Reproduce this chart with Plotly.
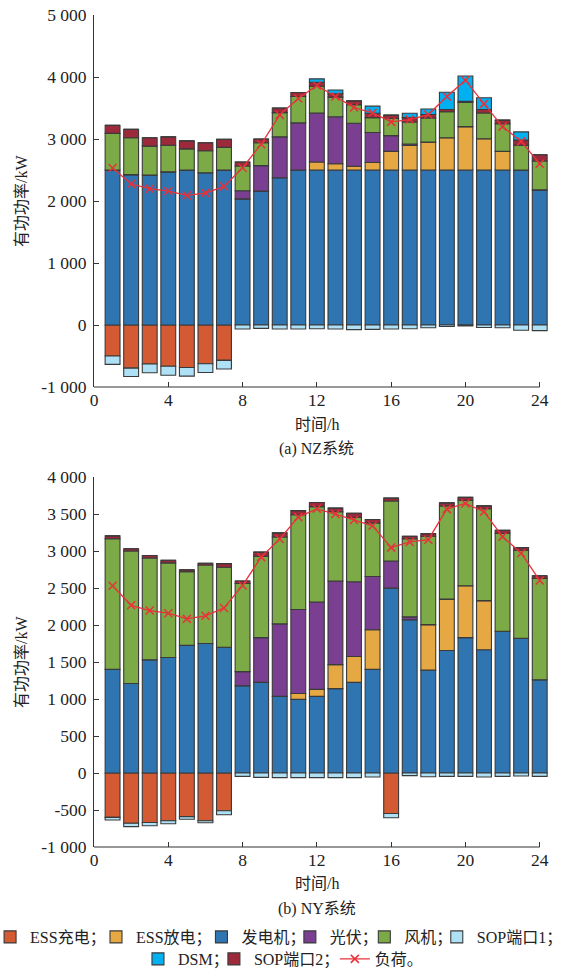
import plotly.graph_objects as go

hours = list(range(1, 25))

# ---- NZ system (a) ----
nz_ess_charge = [-500, -695, -630, -665, -685, -625, -570] + [0] * 17
nz_generator = [2500, 2425, 2420, 2470, 2500, 2455, 2500, 2035, 2160, 2375,
                2500, 2500, 2500, 2500, 2500, 2500, 2500, 2500, 2500, 2500,
                2500, 2500, 2500, 2180]
nz_ess_discharge = [0] * 11 + [130, 100, 60, 120, 300, 395, 450, 520, 700, 505, 300, 0, 0]
nz_pv = [0, 0, 0, 0, 0, 0, 0, 130, 410, 660, 760, 790, 760, 695, 485, 255, 25,
         0, 0, 0, 0, 0, 0, 0]
nz_wind = [590, 595, 465, 430, 340, 355, 365, 400, 370, 390, 425, 430, 315, 300,
           240, 275, 355, 390, 420, 390, 415, 445, 400, 465]
nz_sop1 = [-135, -135, -140, -145, -140, -140, -140, -65, -55, -65, -65, -60,
           -65, -75, -70, -65, -60, -45, -25, -15, -40, -45, -85, -90]
nz_sop2 = [130, 135, 135, 135, 130, 130, 130, 65, 60, 75, 65, 65, 55, 60, 70,
           55, 70, 55, 35, 20, 55, 60, 85, 100]
nz_dsm = [0] * 11 + [55, 60, 0, 115, 0, 70, 90, 280, 405, 190, 0, 130, 0]
nz_load = [2532, 2274, 2198, 2161, 2090, 2128, 2235, 2537, 2914, 3389, 3652,
           3862, 3685, 3507, 3421, 3276, 3313, 3394, 3685, 3948, 3567, 3200,
           2962, 2602]

# ---- NY system (b) ----
ny_ess_charge = [-600, -680, -668, -645, -590, -645, -510, 0, 0, 0, 0, 0, 0, 0,
                 0, -547, 0, 0, 0, 0, 0, 0, 0, 0]
ny_generator = [1400, 1210, 1530, 1560, 1725, 1750, 1700, 1180, 1225, 1035, 995,
                1035, 1140, 1225, 1400, 2500, 2070, 1390, 1655, 1830, 1665, 1915,
                1820, 1260]
ny_ess_discharge = [0] * 10 + [80, 95, 325, 350, 535, 0, 0, 615, 695, 700, 665,
                               0, 0, 0]
ny_pv = [0, 0, 0, 0, 0, 0, 0, 190, 605, 980, 1135, 1180, 1130, 1010, 720, 365,
         40, 0, 0, 0, 0, 0, 0, 0]
ny_wind = [1765, 1790, 1375, 1280, 995, 1060, 1080, 1190, 1100, 1175, 1280, 1290,
           935, 870, 725, 810, 1055, 1195, 1260, 1155, 1240, 1325, 1190, 1370]
ny_sop1 = [-35, -45, -45, -40, -35, -27, -55, -46, -59, -63, -63, -63, -63, -63,
           -54, -58, -36, -50, -46, -46, -54, -46, -41, -46]
ny_sop2 = [40, 30, 35, 35, 25, 25, 50, 35, 55, 55, 55, 55, 50, 55, 45, 40, 35,
           35, 40, 40, 40, 40, 35, 35]
ny_dsm = [0] * 24
ny_load = [2531, 2266, 2195, 2159, 2083, 2124, 2231, 2535, 2917, 3163, 3458,
           3570, 3499, 3418, 3341, 3046, 3122, 3153, 3566, 3642, 3530, 3194,
           2970, 2602]

x_ticks = [0, 4, 8, 12, 16, 20, 24]
y1_ticks = [5000, 4000, 3000, 2000, 1000, 0, -1000]
y1_text = ["5 000", "4 000", "3 000", "2 000", "1 000", "0", "-1 000"]
y2_ticks = [4000, 3500, 3000, 2500, 2000, 1500, 1000, 500, 0, -500, -1000]
y2_text = ["4 000", "3 500", "3 000", "2 500", "2 000", "1 500", "1 000", "500",
           "0", "-500", "-1 000"]

FONT = "Liberation Serif, 'Noto Sans CJK SC', serif"
TXT = "#222222"
EDGE = "#3a3a3a"

series = [
    # key, name, color, legend rank
    ("charge", "ESS充电；", "#D35A32", 1),
    ("gen", "发电机；", "#2E75B2", 3),
    ("dis", "ESS放电；", "#E5A843", 2),
    ("pv", "光伏；", "#7A3F90", 4),
    ("wind", "风机；", "#7BAA47", 5),
    ("sop1", "SOP端口1；", "#AEE0F6", 6),
    ("sop2", "SOP端口2；", "#9C2A3B", 8),
    ("dsm", "DSM；", "#00B0F0", 7),
]
nz = {"charge": nz_ess_charge, "gen": nz_generator, "dis": nz_ess_discharge,
      "pv": nz_pv, "wind": nz_wind, "sop1": nz_sop1, "sop2": nz_sop2, "dsm": nz_dsm}
ny = {"charge": ny_ess_charge, "gen": ny_generator, "dis": ny_ess_discharge,
      "pv": ny_pv, "wind": ny_wind, "sop1": ny_sop1, "sop2": ny_sop2, "dsm": ny_dsm}

legend_key = {1: "legend", 2: "legend2", 3: "legend3", 4: "legend4", 5: "legend5",
              6: "legend6", 7: "legend7", 8: "legend8", 9: "legend9"}

fig = go.Figure()
for data, xa, ya, show in [(nz, "x", "y", True), (ny, "x2", "y2", False)]:
    for key, name, color, rank in series:
        fig.add_trace(go.Bar(
            x=hours, y=data[key], name=name, xaxis=xa, yaxis=ya, width=0.8,
            marker=dict(color=color, line=dict(color=EDGE, width=1.1)),
            showlegend=show, legend=legend_key[rank], legendgroup=key,
        ))
for load, xa, ya, show in [(nz_load, "x", "y", True), (ny_load, "x2", "y2", False)]:
    fig.add_trace(go.Scatter(
        x=hours, y=load, name="负荷。", xaxis=xa, yaxis=ya, mode="lines+markers",
        line=dict(color="#E8323A", width=1.3),
        marker=dict(symbol="x-thin", size=8, line=dict(color="#E8323A", width=1.5)),
        showlegend=show, legend="legend9", legendgroup="load",
    ))

# geometry (pixels)
L, R_EDGE, TOP, BOT = 94, 549.3, 15, 847
PW, PH = R_EDGE - L, BOT - TOP


def px_x(p):
    return (p - L) / PW


def px_y(p):
    return (BOT - p) / PH


axis_common = dict(showgrid=False, zeroline=False, ticks="inside", ticklen=5,
                   tickcolor="#333", automargin=False,
                   tickfont=dict(size=17.5, color=TXT, family=FONT))
fig.update_layout(
    width=569, height=969, barmode="relative", bargap=0.2,
    plot_bgcolor="white", paper_bgcolor="white",
    margin=dict(l=L, r=569 - R_EDGE, t=TOP, b=969 - BOT, autoexpand=False),
    font=dict(family=FONT, color=TXT, size=16),
    xaxis=dict(domain=[0, 1], anchor="y", range=[0, 24.5], tickvals=x_ticks,
               showline=False, **axis_common),
    yaxis=dict(domain=[px_y(387), 1], anchor="x", range=[-1000, 5000],
               tickvals=y1_ticks, ticktext=y1_text, showline=True, linecolor="#333",
               linewidth=1, ticklabelstandoff=3, **axis_common),
    xaxis2=dict(domain=[0, 1], anchor="y2", range=[0, 24.5], tickvals=x_ticks,
                showline=False, **axis_common),
    yaxis2=dict(domain=[0, px_y(477)], anchor="x2", range=[-1000, 4000],
                tickvals=y2_ticks, ticktext=y2_text, showline=True, linecolor="#333",
                linewidth=1, ticklabelstandoff=3, **axis_common),
)

for ya in ["y", "y2"]:
    fig.add_shape(type="line", xref="x" if ya == "y" else "x2", yref=f"{ya} domain",
                  x0=0, x1=24, y0=0, y1=0, line=dict(color="#333", width=1))

annos = [
    ("时间/h", 317, 424, 0),
    ("(a) NZ系统", 317, 449, 0),
    ("时间/h", 317, 884, 0),
    ("(b) NY系统", 317, 909, 0),
    ("有功功率/kW", 21, 201, -90),
    ("有功功率/kW", 21, 662, -90),
]
for text, xp, yp, ang in annos:
    fig.add_annotation(text=text, xref="paper", yref="paper", x=px_x(xp), y=px_y(yp),
                       showarrow=False, textangle=ang, xanchor="center",
                       yanchor="middle", font=dict(size=16, color=TXT, family=FONT))

# legend entries: (rank, swatch centre px, text start px, y px)
legend_pos = [(1, 14, 25, 937), (2, 120, 131, 937), (3, 225, 237, 937),
              (4, 314, 325, 937), (5, 388, 400, 937), (6, 461, 472, 937),
              (7, 161, 174, 959), (8, 237, 250, 959), (9, 356, 373, 959)]
for rank, sc, tx, ty in legend_pos:
    x0 = ((sc - 19) + (tx - 40)) / 2
    fig.update_layout({legend_key[rank]: dict(
        orientation="h", x=px_x(x0), y=px_y(ty), xanchor="left",
        yanchor="middle", bgcolor="rgba(0,0,0,0)", itemwidth=30,
        font=dict(size=16, color=TXT, family=FONT), tracegroupgap=0,
        itemclick=False, itemdoubleclick=False)})

fig.write_html("out.html", config={"displayModeBar": False},
               post_script="document.body.style.margin='0';")
